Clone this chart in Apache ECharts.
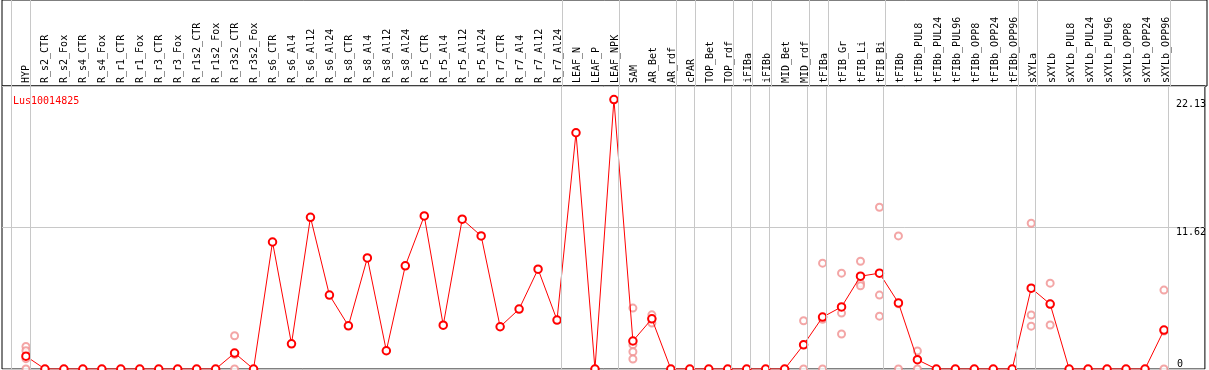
<!DOCTYPE html>
<html>
<head>
<meta charset="utf-8">
<title>Lus10014825</title>
<script src="https://cdn.jsdelivr.net/npm/echarts@6/dist/echarts.min.js"></script>
<style>
  html, body { margin: 0; padding: 0; background: #fff; }
  #chart { width: 1209px; height: 370px; }
</style>
</head>
<body>
<div id="chart"></div>
<script>
// sample names, left to right
var categories = [
  'HYP', 'R_s2_CTR', 'R_s2_Fox', 'R_s4_CTR', 'R_s4_Fox', 'R_r1_CTR', 'R_r1_Fox', 'R_r3_CTR', 'R_r3_Fox',
  'R_r1s2_CTR', 'R_r1s2_Fox', 'R_r3s2_CTR', 'R_r3s2_Fox', 'R_s6_CTR', 'R_s6_Al4', 'R_s6_Al12', 'R_s6_Al24',
  'R_s8_CTR', 'R_s8_Al4', 'R_s8_Al12', 'R_s8_Al24', 'R_r5_CTR', 'R_r5_Al4', 'R_r5_Al12', 'R_r5_Al24',
  'R_r7_CTR', 'R_r7_Al4', 'R_r7_Al12', 'R_r7_Al24', 'LEAF_N', 'LEAF_P', 'LEAF_NPK', 'SAM', 'AR_Bet', 'AR_rdf',
  'cPAR', 'TOP_Bet', 'TOP_rdf', 'iFIBa', 'iFIBb', 'MID_Bet', 'MID_rdf', 'tFIBa', 'tFIB_Gr', 'tFIB_Li', 'tFIB_Bi',
  'tFIBb', 'tFIBb_PUL8', 'tFIBb_PUL24', 'tFIBb_PUL96', 'tFIBb_OPP8', 'tFIBb_OPP24', 'tFIBb_OPP96',
  'sXYLa', 'sXYLb', 'sXYLb_PUL8', 'sXYLb_PUL24', 'sXYLb_PUL96', 'sXYLb_OPP8', 'sXYLb_OPP24', 'sXYLb_OPP96'
];

// mean expression per sample
var means = [
  1.05, 0, 0, 0, 0, 0, 0, 0, 0, 0, 0, 1.31, 0,
  10.43, 2.07, 12.46, 6.07, 3.55, 9.12, 1.5, 8.47,
  12.57, 3.6, 12.3, 10.93, 3.47, 4.92, 8.2, 4.02,
  19.4, 0, 22.13,
  2.3, 4.12, 0,
  0, 0, 0, 0, 0, 0, 1.99,
  4.26, 5.1, 7.62, 7.87, 5.43, 0.76, 0, 0, 0, 0, 0,
  6.64, 5.33, 0, 0, 0, 0, 0, 3.2
];

// replicate values, by sample index
var repIndex = [0, 11, 32, 33, 41, 42, 43, 44, 45, 46, 47, 53, 54, 60];
var repValues = [
  [1.85, 1.5, 0.85, 0],
  [2.73, 1.2, 0],
  [5.0, 2.0, 1.42, 0.82],
  [4.45, 4.12, 3.77],
  [3.96, 2.0, 0],
  [8.69, 4.09, 0],
  [7.87, 4.59, 2.87],
  [8.85, 7.05, 6.83],
  [13.28, 6.07, 4.34],
  [10.93, 5.36, 0],
  [1.48, 0.8, 0],
  [11.97, 4.43, 3.52],
  [7.05, 5.33, 3.61],
  [6.48, 3.12, 0]
];

// group separators come after these sample indexes (-1 = before the first)
var groupEnds = [-1, 0, 28, 31, 34, 35, 37, 38, 39, 41, 42, 45, 52, 53, 60];

var yTicks = [11.62, 22.13];

var FONT = 'DejaVu Sans Mono';
var GRAY = '#c8c8c8';

var meanData = means.map(function (v, i) { return [i, v]; });
var repData = [];
repIndex.forEach(function (idx, k) {
  repValues[k].forEach(function (v) { repData.push([idx, v]); });
});

var sepLines = {
  silent: true,
  symbol: 'none',
  label: { show: false },
  lineStyle: { color: GRAY, width: 1, type: 'solid' },
  data: groupEnds.map(function (g) { return { xAxis: g + 0.21 }; })
};

var xMin = -1.2632, xMax = 62.158;
var yMax = 23.24;

var chart = echarts.init(document.getElementById('chart'));
chart.setOption({
  animation: false,
  backgroundColor: '#fff',
  title: {
    text: 'Lus10014825', left: 8, top: 91,
    textStyle: { color: '#ff0000', fontSize: 10, fontWeight: 'normal', fontFamily: FONT }
  },
  grid: [
    { left: 2, right: 2, top: 0, height: 86, show: true, borderColor: '#000', borderWidth: 1 },
    { left: 2, right: 2, top: 86, bottom: 1, show: true, borderColor: '#000', borderWidth: 1 },
    { left: 16.5, width: 1159, top: 86, height: 280 }
  ],
  xAxis: [
    { gridIndex: 0, type: 'value', min: xMin, max: xMax, show: false },
    { gridIndex: 1, type: 'value', min: xMin, max: xMax, show: false },
    {
      gridIndex: 2, type: 'category', position: 'top', data: categories, boundaryGap: true,
      axisLine: { show: false }, axisTick: { show: false }, splitLine: { show: false },
      axisLabel: { interval: 0, rotate: 90, margin: 3, color: '#000', fontSize: 10, fontFamily: FONT }
    }
  ],
  yAxis: [
    { gridIndex: 0, type: 'value', min: 0, max: 1, show: false },
    {
      gridIndex: 1, type: 'value', position: 'right', min: 0, max: yMax, interval: yMax / 2,
      axisLine: { show: false }, axisTick: { show: false },
      splitLine: { show: true, lineStyle: { color: GRAY, width: 1 } },
      axisLabel: {
        inside: true, align: 'left', margin: 29, verticalAlign: 'top',
        customValues: yTicks, color: '#000', fontSize: 10, fontFamily: FONT,
        formatter: function (v) { return v.toFixed(2); }
      }
    },
    {
      gridIndex: 1, type: 'value', position: 'right', min: 0, max: yMax,
      axisLine: { show: false }, axisTick: { show: false }, splitLine: { show: false },
      axisLabel: {
        inside: true, align: 'left', margin: 28, verticalAlign: 'bottom',
        customValues: [0], color: '#000', fontSize: 10, fontFamily: FONT,
        formatter: function (v) { return String(v); }
      }
    },
    { gridIndex: 2, type: 'value', show: false }
  ],
  series: [
    {
      type: 'line', xAxisIndex: 0, yAxisIndex: 0, data: [],
      markLine: sepLines
    },
    {
      type: 'scatter', xAxisIndex: 1, yAxisIndex: 1, data: repData,
      symbol: 'emptyCircle', symbolSize: 7, silent: true,
      itemStyle: { color: '#f09090', borderWidth: 1.2 }
    },
    {
      type: 'line', xAxisIndex: 1, yAxisIndex: 1, data: meanData,
      symbol: 'emptyCircle', symbolSize: 7.5, showAllSymbol: true,
      lineStyle: { color: '#ff0000', width: 1 },
      itemStyle: { color: '#ff0000', borderWidth: 1.5 },
      markLine: sepLines, z: 3
    }
  ]
});
</script>
</body>
</html>
